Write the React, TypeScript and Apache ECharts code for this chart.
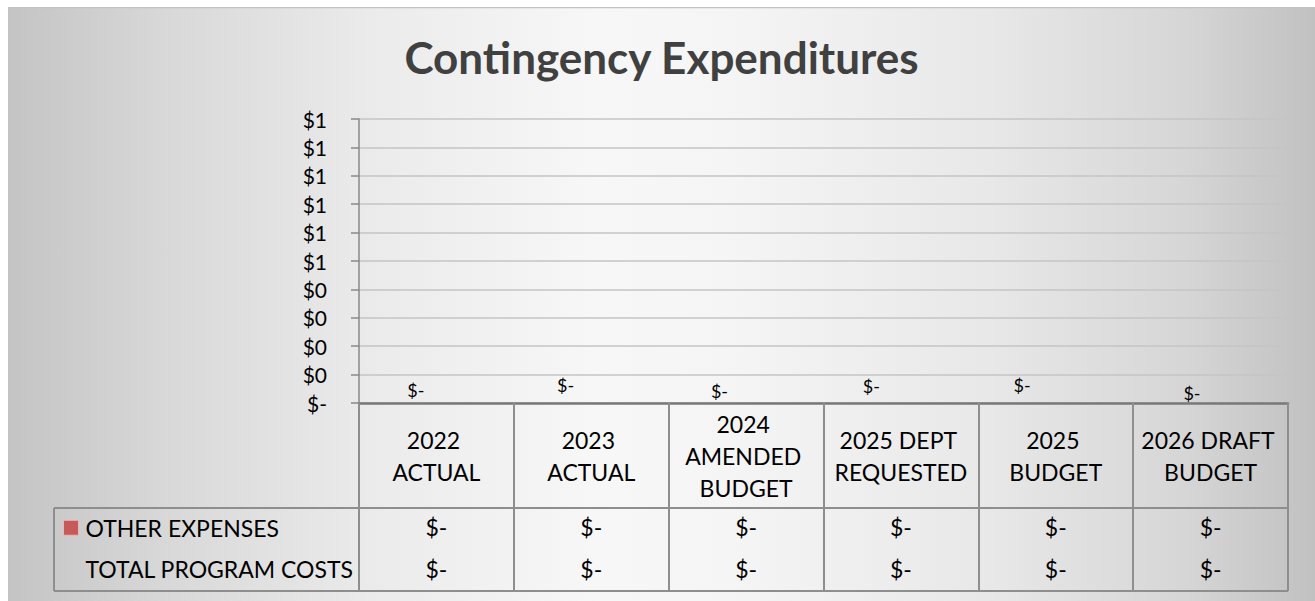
import React, { useEffect, useRef } from "react";
import * as echarts from "echarts";

// ---- data ----
const categories = [
  "2022 ACTUAL",
  "2023 ACTUAL",
  "2024 AMENDED BUDGET",
  "2025 DEPT REQUESTED",
  "2025 BUDGET",
  "2026 DRAFT BUDGET",
];
const otherExpenses = [0, 0, 0, 0, 0, 0];
const totalProgramCosts = [0, 0, 0, 0, 0, 0];
const seriesNames = ["OTHER EXPENSES", "TOTAL PROGRAM COSTS"];
const yTicks = { min: 0, max: 1, interval: 0.1 };
const titleText = "Contingency Expenditures";

// ---- style / layout (not data) ----
const W = 1307;
const H = 594;
const GRID = { left: 351, right: 27, top: 112, bottom: 198 };
const HEADER_H = 105;
const ROW_H = 41.5;
const FONT = "Lato, 'Noto Sans', sans-serif";
const TABLE_LINE = "#8e8e8e";
const BAR_COLOR = "#C55A58";
// small per-label nudges (Excel's label placement) [dx, dy]
const labelNudge = [
  [9, 1],
  [4, -4],
  [3, 2],
  [0, -3],
  [-4, -4],
  [11, 4],
];

const money = (v: number) => (v === 0 ? "$-" : "$" + Math.round(v).toLocaleString("en-US"));

export default function App() {
  const ref = useRef<HTMLDivElement>(null);
  useEffect(() => {
    if (!ref.current) return;
    const chart = echarts.init(ref.current, undefined, { renderer: "svg" });
    const axisY = H - GRID.bottom;
    const tableBottom = axisY + HEADER_H + 2 * ROW_H;
    const plotRight = W - GRID.right;
    const tableLeft = 46;
    const lineStyle = { stroke: TABLE_LINE, lineWidth: 2 };
    chart.setOption({
      animation: false,
      textStyle: { fontFamily: FONT },
      title: {
        text: titleText,
        left: "center",
        top: 23,
        textStyle: { fontFamily: FONT, fontSize: 44, fontWeight: "bold", color: "#404040" },
      },
      legend: {
        orient: "vertical",
        left: 50,
        top: axisY + HEADER_H + ROW_H / 2 - 20,
        itemWidth: 15,
        itemHeight: 15,
        itemGap: ROW_H - 28,
        selectedMode: false,
        textStyle: { fontFamily: FONT, fontSize: 23, lineHeight: 28, color: "#000", padding: [0, 0, 0, 2] },
        data: [
          { name: seriesNames[0], icon: "rect", itemStyle: { color: BAR_COLOR, borderColor: "#e9b9b8", borderWidth: 1 } },
          { name: seriesNames[1], icon: "none" },
        ],
      },
      grid: { ...GRID, containLabel: false },
      xAxis: [
        {
          type: "category",
          data: categories,
          position: "bottom",
          axisLine: { show: true, lineStyle: { color: "#787878", width: 2.5 } },
          axisTick: { show: true, interval: 0, length: HEADER_H + 2 * ROW_H, lineStyle: { color: TABLE_LINE, width: 2 } },
          axisLabel: {
            interval: 0,
            fontFamily: FONT,
            fontSize: 23,
            lineHeight: 32,
            color: "#000",
            verticalAlign: "middle",
            margin: HEADER_H / 2,
            width: 142,
            overflow: "break",
            align: "center",
          },
        },
        {
          type: "category",
          data: categories,
          position: "bottom",
          axisLine: { show: false },
          axisTick: { show: false },
          axisLabel: {
            interval: 0,
            fontFamily: FONT,
            fontSize: 23,
            color: "#000",
            verticalAlign: "middle",
            margin: HEADER_H + ROW_H / 2 - 2,
            formatter: (_v: string, i: number) => money(otherExpenses[i]),
          },
        },
        {
          type: "category",
          data: categories,
          position: "bottom",
          axisLine: { show: false },
          axisTick: { show: false },
          axisLabel: {
            interval: 0,
            fontFamily: FONT,
            fontSize: 23,
            color: "#000",
            verticalAlign: "middle",
            margin: HEADER_H + ROW_H * 1.5 - 1.5,
            formatter: (_v: string, i: number) => money(totalProgramCosts[i]),
          },
        },
      ],
      yAxis: {
        type: "value",
        min: yTicks.min,
        max: yTicks.max,
        interval: yTicks.interval,
        axisLine: { show: true, lineStyle: { color: "#888", width: 1.5 } },
        axisTick: { show: true, length: 8, lineStyle: { color: "#888", width: 1.5 } },
        splitLine: { show: true, lineStyle: { color: "#c4c4c4", width: 1.5 } },
        axisLabel: {
          fontFamily: FONT,
          fontSize: 21,
          color: "#000",
          margin: 32,
          formatter: (v: number) => money(v),
        },
      },
      series: [
        {
          name: seriesNames[0],
          type: "bar",
          xAxisIndex: 0,
          itemStyle: { color: BAR_COLOR },
          data: otherExpenses.map((v, i) => ({
            value: v,
            label: { offset: labelNudge[i] },
          })),
          label: {
            show: true,
            position: "top",
            fontFamily: FONT,
            fontSize: 18,
            color: "#000",
            formatter: (p: any) => money(p.value),
          },
        },
        {
          name: seriesNames[1],
          type: "bar",
          xAxisIndex: 0,
          itemStyle: { color: "rgba(0,0,0,0)" },
          data: totalProgramCosts,
        },
      ],
      graphic: [
        { type: "line", shape: { x1: tableLeft, y1: axisY + HEADER_H, x2: plotRight, y2: axisY + HEADER_H }, style: lineStyle },
        { type: "line", shape: { x1: tableLeft, y1: tableBottom, x2: plotRight, y2: tableBottom }, style: lineStyle },
        { type: "line", shape: { x1: tableLeft, y1: axisY + HEADER_H, x2: tableLeft, y2: tableBottom }, style: lineStyle },
        { type: "line", shape: { x1: 0, y1: 0.5, x2: W, y2: 0.5 }, style: { stroke: "#c2c2c2", lineWidth: 1.5 } },
      ],
    });
    return () => chart.dispose();
  }, []);
  return (
    <div
      ref={ref}
      style={{
        position: "absolute",
        left: 8,
        top: 7,
        width: W,
        height: H,
        background:
          "linear-gradient(90deg, #c4c4c4 0%, #d8d8d8 12%, #ebebeb 28%, #f7f7f7 45%, #f5f5f5 55%, #e8e8e8 75%, #d6d6d6 90%, #c1c1c1 100%)",
      }}
    />
  );
}
